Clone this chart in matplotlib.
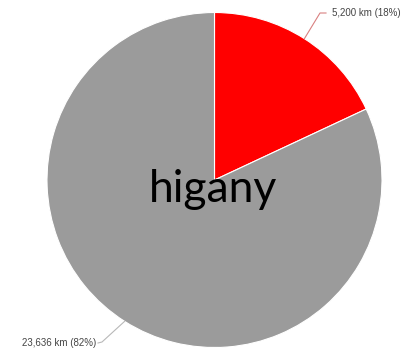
import matplotlib.pyplot as plt
import numpy as np

labels = ["5,200 km (18%)", "23,636 km (82%)"]
distances = [5200, 23636]
colors = ["#ff0000", "#9b9b9b"]
line_colors = ["#d98080", "#b8b8b8"]
title_text = "higany"

W, H = 403, 350
cx, cy, r = 214.5, 170, 167.5

fig = plt.figure(figsize=(W / 100, H / 100), dpi=100)
ax = fig.add_axes([0, 0, 1, 1])

wedges, _ = ax.pie(
    distances,
    colors=colors,
    center=(cx, cy),
    radius=r,
    startangle=90,
    counterclock=False,
    wedgeprops=dict(edgecolor="white", linewidth=0.8),
    frame=True,
)
ax.set_xlim(0, W)
ax.set_ylim(0, H)
ax.axis("off")

# leader lines from the middle of each slice's rim out to its label
label_pos = [(332, 337), (98, 7)]
for w, lab, lc, (tx, ty) in zip(wedges, labels, line_colors, label_pos):
    mid = np.deg2rad((w.theta1 + w.theta2) / 2)
    ex, ey = cx + r * np.cos(mid), cy + r * np.sin(mid)
    if tx > cx:
        ax.plot([ex, tx - 12, tx - 6], [ey, ty, ty], color=lc, lw=0.8)
        ax.text(tx, ty, lab, ha="left", va="center", fontsize=7,
                family="Liberation Sans", color="#444444")
    else:
        ax.plot([ex, tx + 4, tx], [ey, ty + 1, ty], color=lc, lw=0.8)
        ax.text(tx - 2, ty, lab, ha="right", va="center", fontsize=7,
                family="Liberation Sans", color="#444444")

ax.text(cx - 1, 170 - 10, title_text, ha="center", va="center",
        fontsize=32, family="Lato", color="black")

fig.savefig("out.png", dpi=100)
